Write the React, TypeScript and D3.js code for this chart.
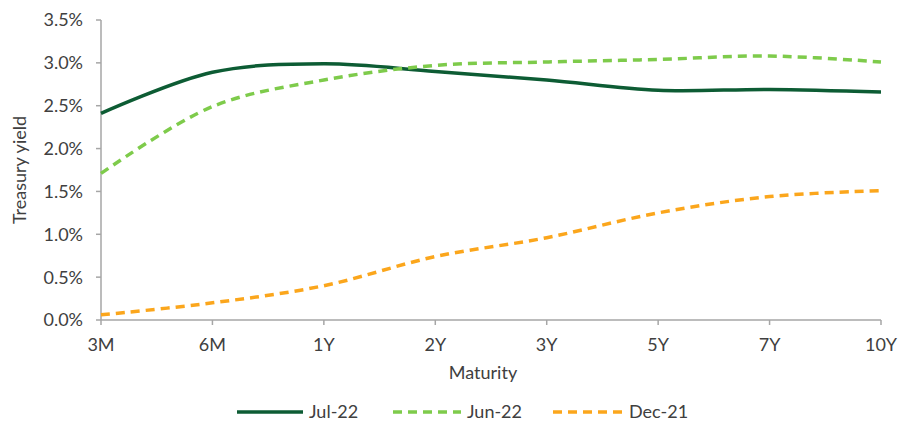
import React from "react";
import * as d3 from "d3";

const maturities = ["3M", "6M", "1Y", "2Y", "3Y", "5Y", "7Y", "10Y"];
const jul22 = [2.41, 2.89, 2.99, 2.9, 2.8, 2.68, 2.69, 2.66];
const jun22 = [1.71, 2.49, 2.8, 2.97, 3.01, 3.04, 3.08, 3.01];
const dec21 = [0.06, 0.2, 0.4, 0.74, 0.96, 1.25, 1.44, 1.51];
const yTicks = [0, 0.5, 1, 1.5, 2, 2.5, 3, 3.5];
const seriesNames = ["Jul-22", "Jun-22", "Dec-21"];

const W = 898;
const H = 425;
const FONT = "Lato, 'Open Sans', sans-serif";
const TXT = "#404040";
const AXIS = "#a6a6a6";
const FS = 18;

export default function App() {
  const x = d3.scalePoint<string>().domain(maturities).range([101, 881]);
  const y = d3.scaleLinear().domain([0, 3.5]).range([320, 20]);
  const line = d3
    .line<number>()
    .x((_, i) => x(maturities[i]) as number)
    .y((d) => y(d))
    .curve(d3.curveCatmullRom.alpha(0.5));

  const series = [
    { name: seriesNames[0], data: jul22, color: "#0d5c34", dash: undefined },
    { name: seriesNames[1], data: jun22, color: "#7ecb4b", dash: "9,6" },
    { name: seriesNames[2], data: dec21, color: "#fba61c", dash: "9,6" },
  ];

  const legend = [
    { x1: 237, x2: 303, tx: 309 },
    { x1: 393, x2: 461, tx: 467 },
    { x1: 553, x2: 623, tx: 629 },
  ];

  return (
    <svg
      width={W}
      height={H}
      style={{ position: "absolute", left: 0, top: 0, background: "#fff" }}
      fontFamily={FONT}
    >
      {/* y axis */}
      <line x1={101} x2={101} y1={y(3.5)} y2={y(0)} stroke={AXIS} strokeWidth={1.5} />
      {yTicks.map((t) => (
        <g key={t}>
          <line x1={96} x2={101} y1={y(t)} y2={y(t)} stroke={AXIS} strokeWidth={1.5} />
          <text
            x={83}
            y={y(t)}
            dy="0.36em"
            textAnchor="end"
            fontSize={FS}
            fill={TXT}
          >
            {t.toFixed(1) + "%"}
          </text>
        </g>
      ))}
      {/* x axis */}
      <line x1={101} x2={881} y1={320} y2={320} stroke={AXIS} strokeWidth={1.5} />
      {maturities.map((m) => (
        <g key={m}>
          <line
            x1={x(m) as number}
            x2={x(m) as number}
            y1={320}
            y2={325}
            stroke={AXIS}
            strokeWidth={1.5}
          />
          <text x={x(m) as number} y={351} textAnchor="middle" fontSize={FS} fill={TXT}>
            {m}
          </text>
        </g>
      ))}
      <text x={483} y={379} textAnchor="middle" fontSize={FS} fill={TXT}>
        Maturity
      </text>
      <text
        transform={`translate(26,170) rotate(-90)`}
        textAnchor="middle"
        fontSize={FS}
        fill={TXT}
      >
        Treasury yield
      </text>
      {/* lines */}
      {series.map((s) => (
        <path
          key={s.name}
          d={line(s.data) as string}
          fill="none"
          stroke={s.color}
          strokeWidth={3.5}
          strokeDasharray={s.dash}
        />
      ))}
      {/* legend */}
      {series.map((s, i) => (
        <g key={"lg" + s.name}>
          <line
            x1={legend[i].x1}
            x2={legend[i].x2}
            y1={412}
            y2={412}
            stroke={s.color}
            strokeWidth={3.5}
            strokeDasharray={s.dash}
          />
          <text x={legend[i].tx} y={412} dy="0.36em" fontSize={FS} fill={TXT}>
            {s.name}
          </text>
        </g>
      ))}
    </svg>
  );
}
